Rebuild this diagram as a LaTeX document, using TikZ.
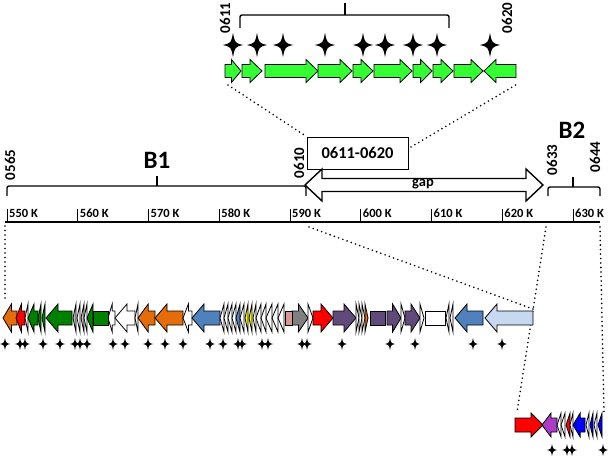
\documentclass[tikz,border=0pt]{standalone}
\usepackage{fontspec}
\setmainfont{Carlito}
\definecolor{cgreen}{RGB}{51,255,51}
\definecolor{corange}{RGB}{228,108,10}
\definecolor{cred}{RGB}{255,0,0}
\definecolor{dgreen}{RGB}{0,128,0}
\definecolor{cblue}{RGB}{79,129,189}
\definecolor{clightblue}{RGB}{198,217,241}
\definecolor{cpurple}{RGB}{96,74,123}
\definecolor{cpink}{RGB}{217,150,148}
\definecolor{cgrey}{RGB}{128,128,128}
\definecolor{cyellow}{RGB}{255,255,0}
\definecolor{cmagenta}{RGB}{170,60,200}
\definecolor{cblue2}{RGB}{0,0,255}
\tikzset{
  gene/.style={draw=black, line width=0.8pt, line join=miter},
  brace/.style={line width=1.4pt, rounded corners=2pt},
  zoomline/.style={line width=1.8pt, dash pattern=on 0pt off 4.5pt, line cap=round},
  locus/.style={rotate=90, font=\fontsize{15}{15}\bfseries\selectfont},
  spark/.pic={\fill (0,-12) .. controls (2,-2) .. (10,0) .. controls (2,2) .. (0,12)
      .. controls (-2,2) .. (-10,0) .. controls (-2,-2) .. (0,-12) -- cycle;}
}
% y, tail, tip, fill, head half height, body half height
\newcommand{\drawgene}[6]{%
  \pgfmathsetmacro{\glen}{abs(#3-#2)}%
  \pgfmathsetmacro{\gdir}{sign(#3-#2)}%
  \pgfmathsetmacro{\ghead}{ifthenelse(\glen>6,min(12,0.6*\glen),\glen)}%
  \pgfmathsetmacro{\gneck}{#3-\gdir*\ghead}%
  \filldraw[gene, fill=#4] (#2,#1-#6) -- (\gneck,#1-#6) -- (\gneck,#1-#5) -- (#3,#1)
    -- (\gneck,#1+#5) -- (\gneck,#1+#6) -- (#2,#1+#6) -- cycle;}
\begin{document}
\begin{tikzpicture}[x=1pt,y=-1pt]
\useasboundingbox (0,0) rectangle (610,460);

% cluster 0611-0620
\draw[brace] (240,28) -- (240,15) -- (449,15) -- (449,28);
\draw[line width=1.4pt] (345,15) -- (345,3);
\node[locus] (l0611) at (225,18) {0611};
\node[locus] (l0620) at (507,18) {0620};
\foreach \x in {233,257,283,325,363,385,413,437,490}
  \pic at (\x,45) {spark};
\foreach \tl/\tp in {225/241,242/262,265/318,318/352,353/373,374/412,413/432,433/453,454/483,516/484}
  {\drawgene{71}{\tl}{\tp}{cgreen}{11.5}{6.5}}
\coordinate (topl) at (228,85);
\coordinate (topr) at (519,83);

\node[draw, line width=1pt, minimum width=101, minimum height=32,
  font=\fontsize{16.5}{16.5}\bfseries\selectfont] (rangebox) at (357.5,153) {0611-0620};
\coordinate (boxr) at (411,147);
\draw[zoomline] (topl) -- (rangebox.north west);
\draw[zoomline] (boxr) -- (topr);

% B1 and B2
\draw[brace] (7,196) -- (7,186) -- (306,186) -- (306,196);
\draw[line width=1.4pt] (157,186) -- (157,176);
\node[font=\fontsize{25}{25}\bfseries\selectfont] (b1) at (157,160) {B1};
\node[locus] (l0565) at (10,165) {0565};
\node[locus] (l0610) at (299,163) {0610};
\draw[brace] (548,196) -- (548,187) -- (600,187) -- (600,196);
\draw[line width=1.4pt] (573,187) -- (573,177);
\node[font=\fontsize{25}{25}\bfseries\selectfont] (b2) at (572,130) {B2};
\node[locus] (l0633) at (552,160) {0633};
\node[locus] (l0644) at (595,157) {0644};

% gap
\filldraw[fill=white, line width=1.4pt, line join=miter] (305,185) -- (322,169) -- (322,178.5)
  -- (526,178.5) -- (526,169) -- (543,185) -- (526,201) -- (526,191.5) -- (322,191.5)
  -- (322,201) -- cycle;
\node[font=\fontsize{14.5}{14.5}\bfseries\selectfont] (gap) at (423,184) {gap};

% scale
\draw[line width=1.2pt] (5,222) -- (600,222);
\foreach \k [count=\i from 0] in {550,560,570,580,590,600,610,620,630} {
  \pgfmathsetmacro{\tx}{7+70.75*\i}
  \draw[line width=1pt] (\tx,209) -- (\tx,222);
  \node[anchor=west, inner sep=1pt, font=\fontsize{12.5}{12.5}\bfseries\selectfont]
    (k\k) at (\tx+1,213) {\k\ K};
}
\coordinate (s1) at (5,226);
\coordinate (s2) at (309,227);
\coordinate (s3) at (546,227);
\coordinate (s4) at (600,227);
\coordinate (r1) at (5,299);
\coordinate (r2) at (533,309);
\coordinate (r3) at (517,412);
\coordinate (r4) at (604,412);
\draw[zoomline] (s1) -- (r1);
\draw[zoomline] (s2) -- (r2);
\draw[zoomline] (s3) -- (r3);
\draw[zoomline] (s4) -- (r4);

% B1 genes
\foreach \tl/\tp/\c in {17/3/corange,25/16/cred,28/25/white,38/28/dgreen,41/38/dgreen,
  45/42/dgreen,72/46/dgreen,76/73/lightgray,80/77/white,84/81/lightgray,87/84/white,
  93/87/dgreen,115/108/white,135/115/white,138/135/white,155/138/corange,183/155/corange,
  192/183/white,220/192/cblue,224/220/white,228/224/white,232/228/white,236/232/white,
  240/236/cblue,244/240/white,248/245/cyellow,252/249/cyellow,256/253/white,261/256/white,
  266/261/white,272/266/white,278/272/white,284/278/white,292/308/cgrey,308/313/white,
  313/333/cred,333/356/cpurple,356/359/white,359/362/white,362/365/white,365/368/corange,
  387/401/cpurple,401/405/white,405/420/cpurple,420/424/white,449/446/white,453/450/white,
  483/455/cblue,533/485/clightblue}
  {\drawgene{318}{\tl}{\tp}{\c}{14}{7}}
\foreach \a/\b/\c in {93/108/dgreen,285/292/cpink,370/385/cpurple,425/445/white}
  {\filldraw[gene, fill=\c] (\a,311) rectangle (\b,325);}
\foreach \x in {5,20,25,43,60,75,80,87,113,125,148,165,183,210,223,238,242,262,268,
  302,307,342,390,415,473,502}
  \pic[scale=0.5] at (\x,344) {spark};

% B2 genes
\foreach \tl/\tp/\c in {515/543/cred,557/542/cmagenta,561/557/white,565/561/white,
  570/566/cred,573/570/white,585/573/cblue2,589/586/white,593/590/cblue2,597/594/white,
  602/598/cblue2}
  {\drawgene{425}{\tl}{\tp}{\c}{12}{7}}
\foreach \x in {552,567,572,603}
  \pic[scale=0.5] at (\x,450) {spark};
\end{tikzpicture}
\end{document}
